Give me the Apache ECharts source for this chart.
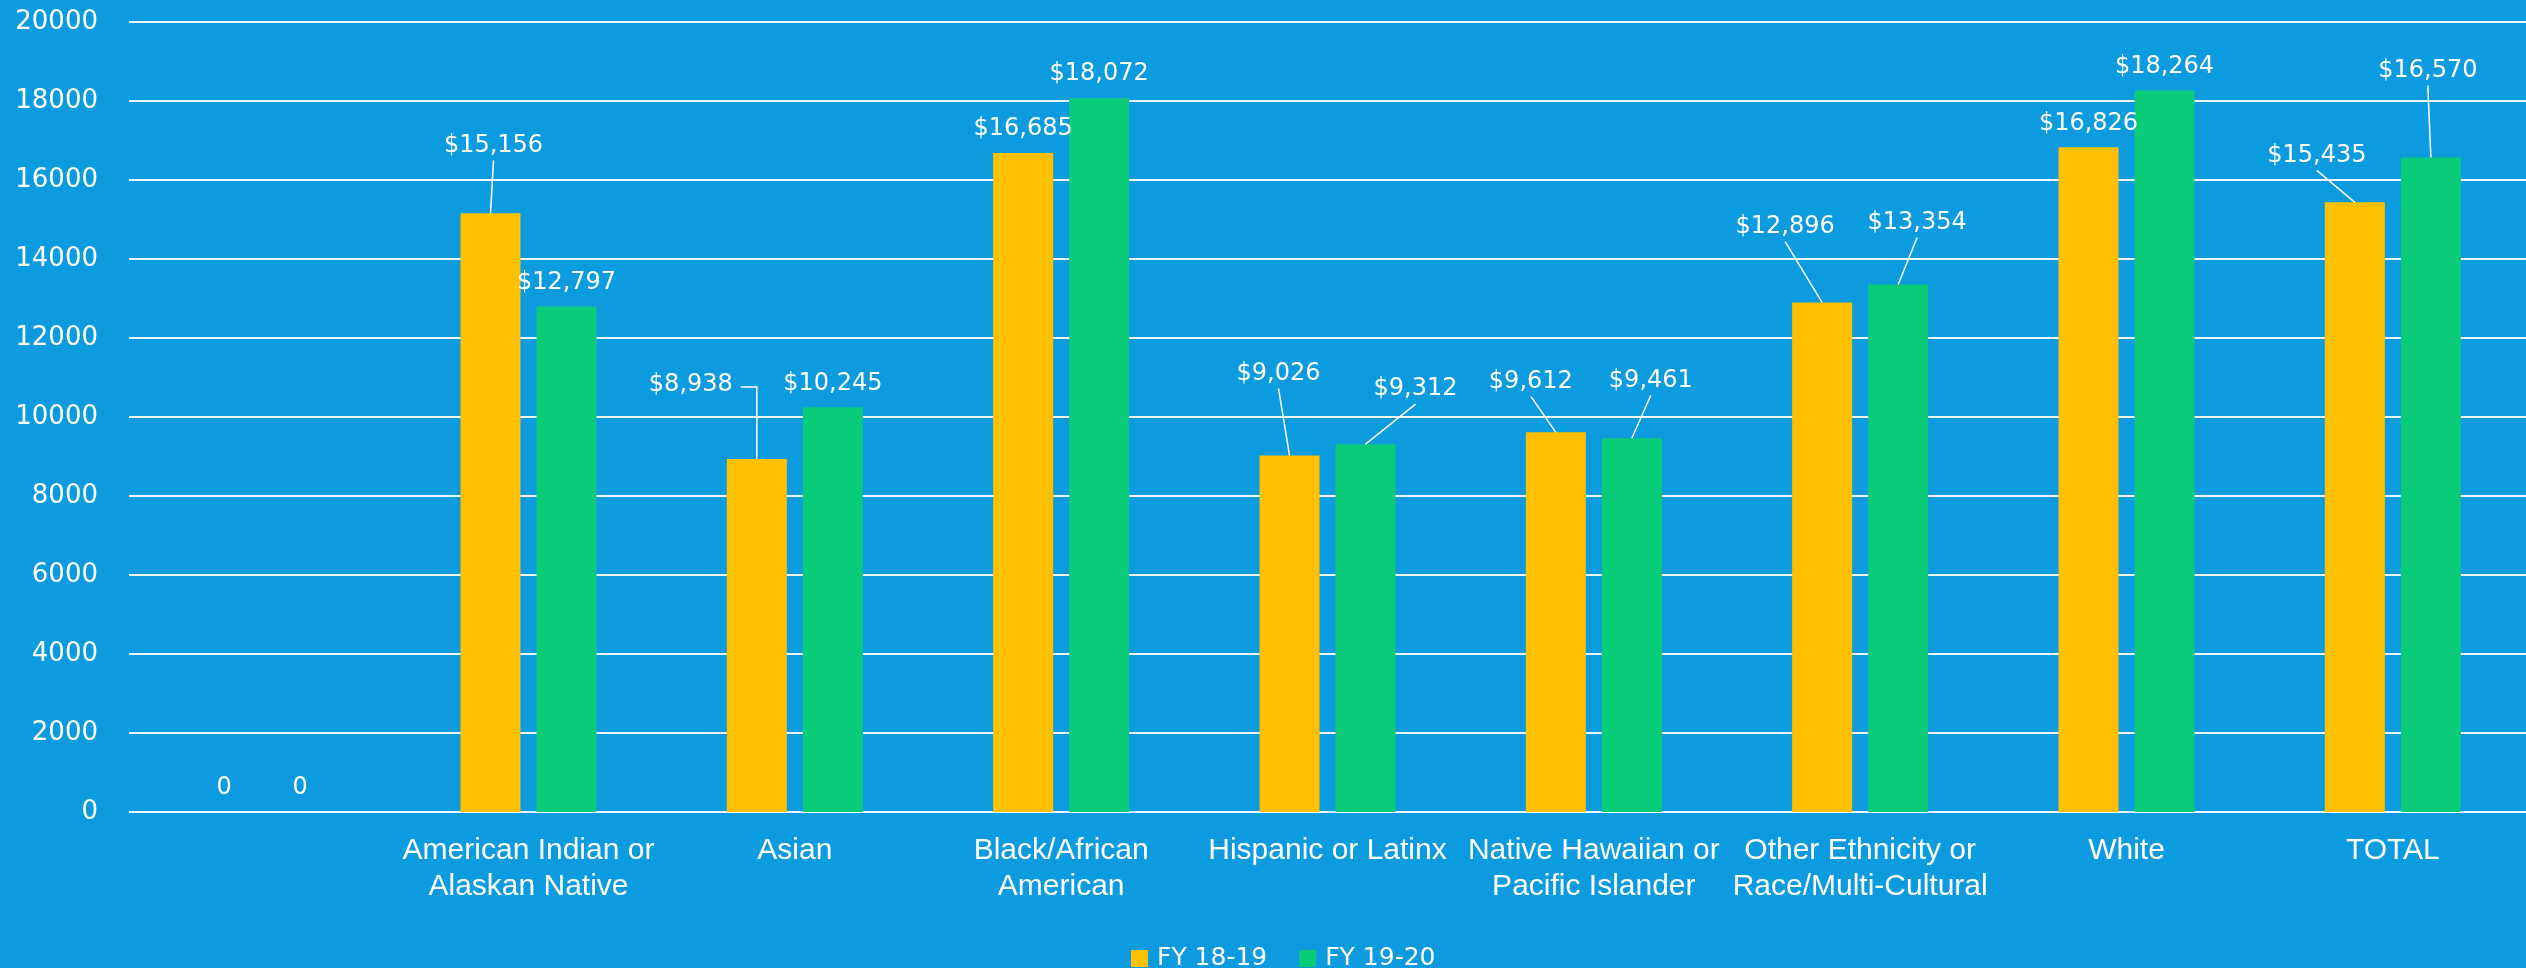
<!DOCTYPE html>
<html>
<head>
<meta charset="utf-8">
<script src="https://cdn.jsdelivr.net/npm/echarts@6/dist/echarts.min.js"></script>
<style>
  html, body { margin: 0; padding: 0; background: #0C9BDE; }
  #chart { width: 2526px; height: 968px; }
</style>
</head>
<body>
<div id="chart"></div>
<script>
// ---- data ----
const categories = ['', 'American Indian or\nAlaskan Native', 'Asian', 'Black/African\nAmerican',
  'Hispanic or Latinx', 'Native Hawaiian or\nPacific Islander', 'Other Ethnicity or\nRace/Multi-Cultural', 'White', 'TOTAL'];
const seriesNames = ['FY 18-19', 'FY 19-20'];
const fy1819 = [0, 15156, 8938, 16685, 9026, 9612, 12896, 16826, 15435];
const fy1920 = [0, 12797, 10245, 18072, 9312, 9461, 13354, 18264, 16570];
const yTicks = { min: 0, max: 20000, interval: 2000 };

// ---- label offsets (style/position only) ----
const labelOffsets = [
  [[0,0],[3,-44],[-66,-50],[0,0],[-11,-58],[-25,-27],[-37,-52],[0,0],[-38,-23]],
  [[0,0],[0,0],[0,0],[0,0],[50,-31],[19,-34],[19,-38],[0,0],[-3,-63]]
];
// leader style: 'b' = from label bottom, 's' = from label right side (elbow)
const leaderKind = [
  ['', 'b', 's', '', 'b', 'b', 'b', '', 'b'],
  ['', '', '', '', 'b', 'b', 'b', '', 'b']
];

const BAR_W = 60, BAR_GAP = 16, LABEL_DIST = 12, LABEL_FS = 24;
const labelFont = 'DejaVu Sans';
const colors = ['#FFC000', '#0ACC78'];

const chart = echarts.init(document.getElementById('chart'), null, { renderer: 'canvas' });

function fmt(v) {
  return v === 0 ? '0' : '$' + v.toLocaleString('en-US');
}

const measureCtx = document.createElement('canvas').getContext('2d');
function textWidth(s) {
  measureCtx.font = LABEL_FS + 'px "' + labelFont + '"';
  return measureCtx.measureText(s).width;
}

function makeSeries(values, si) {
  return {
    name: seriesNames[si],
    type: 'bar',
    barWidth: BAR_W,
    barGap: (BAR_GAP / BAR_W * 100) + '%',
    itemStyle: { color: colors[si] },
    data: values,
    z: 2,
    label: {
      show: true,
      position: 'top',
      distance: LABEL_DIST,
      color: '#ffffff',
      fontFamily: labelFont,
      fontSize: LABEL_FS,
      formatter: p => fmt(p.value)
    },
    labelLayout: function (params) {
      const o = labelOffsets[params.seriesIndex][params.dataIndex];
      return { dx: o[0], dy: o[1] };
    }
  };
}

// leader lines drawn through the value axis scale
const leaderData = [];
[fy1819, fy1920].forEach((vals, si) => {
  vals.forEach((v, i) => {
    if (leaderKind[si][i]) leaderData.push([i, v, si]);
  });
});

const leaderSeries = {
  type: 'custom',
  name: 'leaders',
  silent: true,
  z: 5,
  data: leaderData,
  renderItem: function (params, api) {
    const cat = api.value(0), val = api.value(1), si = api.value(2);
    const p = api.coord([cat, val]);
    const shift = (si === 0 ? -1 : 1) * (BAR_W + BAR_GAP) / 2;
    const bx = p[0] + shift, by = p[1];
    const o = labelOffsets[si][cat];
    const kind = leaderKind[si][cat];
    const boxBottom = by - LABEL_DIST + o[1];
    const lx = bx + o[0];
    let pts;
    if (kind === 'b') {
      pts = [[lx, boxBottom + 3], [bx, by]];
    } else {
      const w = textWidth(fmt(val));
      const yMid = boxBottom - LABEL_FS / 2 + 2;
      pts = [[lx + w / 2 + 8, yMid], [bx, yMid], [bx, by]];
    }
    return {
      type: 'polyline',
      shape: { points: pts },
      style: { stroke: '#ffffff', lineWidth: 1.5, fill: null }
    };
  }
};

const option = {
  backgroundColor: '#0C9BDE',
  animation: false,
  grid: { left: 129, top: 22, width: 2402, height: 790 },
  legend: {
    data: seriesNames,
    left: 1131,
    top: 946,
    padding: 0,
    icon: 'rect',
    itemWidth: 17,
    itemHeight: 17,
    itemGap: 32,
    textStyle: { color: '#ffffff', fontFamily: labelFont, fontSize: 25, padding: [0, 0, 0, 4] }
  },
  xAxis: {
    type: 'category',
    data: categories,
    axisLine: { show: false },
    axisTick: { show: false },
    axisLabel: {
      interval: 0,
      color: '#ffffff',
      fontFamily: 'Liberation Sans',
      fontSize: 30,
      lineHeight: 36,
      margin: 21
    }
  },
  yAxis: {
    type: 'value',
    min: yTicks.min,
    max: yTicks.max,
    interval: yTicks.interval,
    axisLine: { show: false },
    axisTick: { show: false },
    axisLabel: {
      color: '#ffffff',
      fontFamily: labelFont,
      fontSize: 26,
      margin: 31,
      formatter: v => String(v)
    },
    splitLine: { lineStyle: { color: '#EEF6FB', width: 2 } }
  },
  series: [makeSeries(fy1819, 0), makeSeries(fy1920, 1), leaderSeries]
};

chart.setOption(option);
</script>
</body>
</html>
